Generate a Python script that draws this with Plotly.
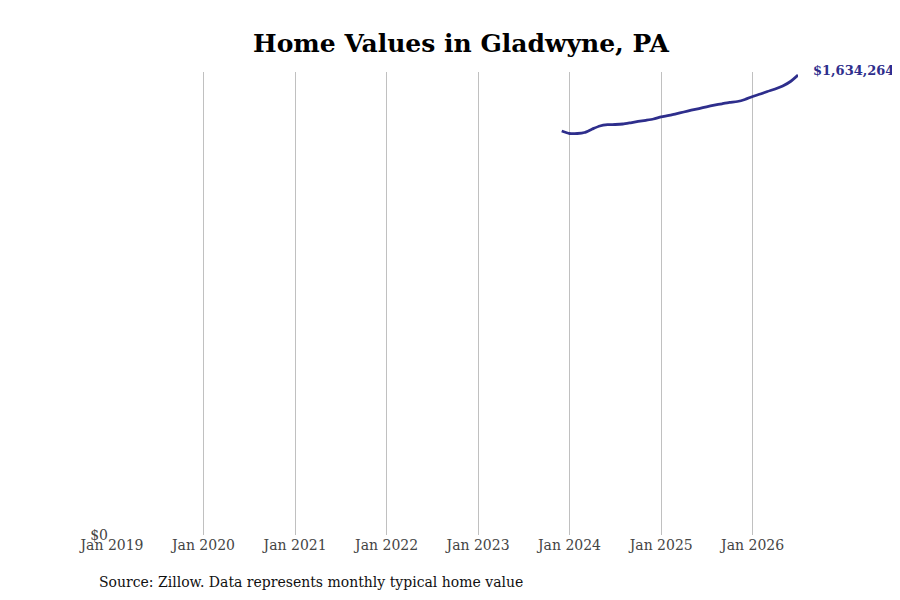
import pandas as pd
import plotly.graph_objects as go

# Valeurs mensuelles
months = pd.date_range("2023-12-01", "2026-07-01", freq="MS")
values = [
    1435400, 1426500, 1426500, 1430100, 1442500, 1453200, 1457800, 1458500,
    1460300, 1464600, 1469200, 1473400, 1478000, 1485200, 1490500, 1496500,
    1502900, 1509300, 1515300, 1521400, 1527100, 1532100, 1536700, 1540200,
    1547300, 1558000, 1566900, 1575700, 1584600, 1595300, 1611300, 1634264,
]
tick_dates = pd.date_range("2019-01-01", "2026-01-01", freq="YS")
tick_labels = [d.strftime("Jan %Y") for d in tick_dates]

line_color = "#2e2e8c"
font_family = "DejaVu Serif"

fig = go.Figure()

fig.add_trace(go.Scatter(
    x=months,
    y=values,
    mode="lines",
    line=dict(color=line_color, width=2.8, shape="spline", smoothing=0.6),
    showlegend=False,
    hoverinfo="skip",
))

# Étiquette de la dernière valeur
fig.add_annotation(
    x=months[-1], y=values[-1],
    text="<b>${:,}</b>".format(values[-1]),
    showarrow=False, xanchor="left", yanchor="middle",
    xshift=13, yshift=5,
    font=dict(family=font_family, size=13, color=line_color),
)

fig.add_annotation(
    x=-0.022, y=-0.1015, xref="paper", yref="paper",
    xanchor="left", yanchor="middle",
    text="Source: Zillow. Data represents monthly typical home value",
    showarrow=False,
    font=dict(family=font_family, size=14, color="#111111"),
)

fig.update_layout(
    width=884, height=584,
    title=dict(
        text="<b>Home Values in Gladwyne, PA</b>",
        x=0.5124, xanchor="center", y=0.940, yanchor="middle",
        font=dict(family=font_family, size=25, color="#000000"),
    ),
    font=dict(family=font_family, size=14, color="#444444"),
    plot_bgcolor="white",
    paper_bgcolor="white",
    margin=dict(l=104, r=94, t=64, b=57),
    xaxis=dict(
        range=[tick_dates[0], months[-1]],
        tickvals=tick_dates,
        ticktext=tick_labels,
        showgrid=True, gridcolor="#c0c0c0", gridwidth=1,
        zeroline=False, showline=False,
        ticks="", ticklabelstandoff=0,
    ),
    yaxis=dict(
        range=[0, 1645000],
        tickvals=[0],
        ticktext=["$0"],
        showgrid=False, zeroline=False, showline=False,
        ticks="", ticklabelstandoff=3,
    ),
)

fig.write_html("out.html")
